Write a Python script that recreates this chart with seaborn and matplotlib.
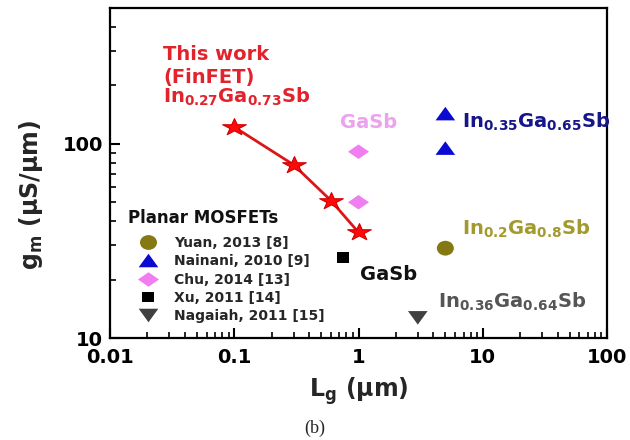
import matplotlib
matplotlib.use("Agg")
import matplotlib.pyplot as plt
import numpy as np
import pandas as pd
import seaborn as sns
from matplotlib.markers import MarkerStyle
from matplotlib.transforms import Affine2D
from matplotlib.ticker import FuncFormatter, LogLocator, NullFormatter

# ---------------- data ----------------
this_work_lg = [0.1, 0.3, 0.6, 1.0]
this_work_gm = [122, 78, 51, 35]

planar_source = ["Yuan, 2013 [8]", "Nainani, 2010 [9]", "Nainani, 2010 [9]",
                 "Chu, 2014 [13]", "Chu, 2014 [13]", "Xu, 2011 [14]",
                 "Nagaiah, 2011 [15]"]
planar_lg = [5, 5, 5, 1, 1, 0.75, 3]
planar_gm = [29, 143, 95, 91, 50, 26, 12.7]
legend_order = ["Yuan, 2013 [8]", "Nainani, 2010 [9]", "Chu, 2014 [13]",
                "Xu, 2011 [14]", "Nagaiah, 2011 [15]"]
x_ticks = [0.01, 0.1, 1, 10, 100]
y_ticks = [10, 100]

# ---------------- style ----------------
sns.set_theme(style="ticks")
plt.rcParams["font.family"] = ["DejaVu Sans"]
plt.rcParams["font.weight"] = "bold"
plt.rcParams["mathtext.fontset"] = "dejavusans"
plt.rcParams["mathtext.default"] = "bf"


def stretched(m, sx):
    ms = MarkerStyle(m)
    p = ms.get_path().transformed(ms.get_transform())
    return p.transformed(Affine2D().scale(sx, 1.0))


markers = {
    "Yuan, 2013 [8]": stretched("o", 1.15),
    "Nainani, 2010 [9]": stretched("^", 1.45),
    "Chu, 2014 [13]": stretched("D", 1.45),
    "Xu, 2011 [14]": stretched("s", 1.25),
    "Nagaiah, 2011 [15]": stretched("v", 1.45),
}
palette = {
    "Yuan, 2013 [8]": "#857914",
    "Nainani, 2010 [9]": "#0a0ad2",
    "Chu, 2014 [13]": "#f07ef0",
    "Xu, 2011 [14]": "#000000",
    "Nagaiah, 2011 [15]": "#404040",
}
sizes = {
    "Yuan, 2013 [8]": 150,
    "Nainani, 2010 [9]": 200,
    "Chu, 2014 [13]": 230,
    "Xu, 2011 [14]": 85,
    "Nagaiah, 2011 [15]": 200,
}

df = pd.DataFrame({"Lg": planar_lg, "gm": planar_gm, "src": planar_source})

fig = plt.figure(figsize=(6.3, 4.4), dpi=100)
ax = fig.add_axes([0.1746, 0.2318, 0.7889, 0.75])
ax.set_xscale("log")
ax.set_yscale("log")

sns.lineplot(x=this_work_lg, y=this_work_gm, ax=ax, color="#dc1616",
             linewidth=2, sort=False, marker=stretched("*", 1.4),
             markersize=17, markerfacecolor="#ff0a0a",
             markeredgecolor="#d00000", markeredgewidth=0.8)

sns.scatterplot(data=df, x="Lg", y="gm", hue="src", style="src", size="src",
                hue_order=legend_order, style_order=legend_order,
                size_order=legend_order, palette=palette, markers=markers,
                sizes=sizes, linewidth=0, ax=ax, legend="full", zorder=3)

old = ax.get_legend()
handles = old.legend_handles
labels = [t.get_text() for t in old.get_texts()]
old.remove()
pairs = [(h, l) for h, l in zip(handles, labels) if l in legend_order]
ax.legend([p[0] for p in pairs], [p[1] for p in pairs], loc="upper left",
          bbox_to_anchor=(0.056, 0.309), frameon=False, borderpad=0,
          borderaxespad=0, handlelength=1.4, handletextpad=1.2,
          labelspacing=0.31, prop=dict(family="DejaVu Sans", weight="bold", size=10))

ax.set_xlim(0.01, 100)
ax.set_ylim(10, 500)
ax.xaxis.set_major_locator(LogLocator(base=10, numticks=10))
ax.yaxis.set_major_locator(LogLocator(base=10, numticks=10))
ax.xaxis.set_minor_locator(LogLocator(base=10, subs=np.arange(2, 10), numticks=20))
ax.yaxis.set_minor_locator(LogLocator(base=10, subs=np.arange(2, 10), numticks=20))
fmt = FuncFormatter(lambda v, p: f"{v:g}")
ax.xaxis.set_major_formatter(fmt)
ax.yaxis.set_major_formatter(fmt)
ax.xaxis.set_minor_formatter(NullFormatter())
ax.yaxis.set_minor_formatter(NullFormatter())
ax.tick_params(which="both", direction="in", top=False, right=False,
               colors="black", labelsize=14, width=1.5)
ax.tick_params(which="major", length=7)
ax.tick_params(axis="x", which="major", pad=7)
ax.tick_params(axis="y", which="major", pad=5)
ax.tick_params(which="minor", length=4, width=1.2)
for lab in ax.get_xticklabels() + ax.get_yticklabels():
    lab.set_fontweight("bold")
for s in ax.spines.values():
    s.set_linewidth(1.6)
    s.set_color("black")

ax.set_xlabel("L$_{g}$ (μm)", fontsize=17, fontweight="bold", labelpad=6)
ax.set_ylabel("g$_{m}$ (μS/μm)", fontsize=17, fontweight="bold")
ax.yaxis.set_label_coords(-0.131, 0.433)

T = ax.transAxes
red = "#e3232c"
ax.text(0.107, 0.842, "This work", transform=T, color=red, fontsize=14, fontweight="bold")
ax.text(0.107, 0.773, "(FinFET)", transform=T, color=red, fontsize=14, fontweight="bold")
ax.text(0.107, 0.712, "In$_{0.27}$Ga$_{0.73}$Sb", transform=T, color=red, fontsize=14, fontweight="bold")
ax.text(0.463, 0.636, "GaSb", transform=T, color="#eca2ec", fontsize=14, fontweight="bold")
ax.text(0.708, 0.636, "In$_{0.35}$Ga$_{0.65}$Sb", transform=T, color="#16168a", fontsize=14, fontweight="bold")
ax.text(0.708, 0.312, "In$_{0.2}$Ga$_{0.8}$Sb", transform=T, color="#a39a2e", fontsize=14, fontweight="bold")
ax.text(0.503, 0.176, "GaSb", transform=T, color="#111111", fontsize=14, fontweight="bold")
ax.text(0.660, 0.091, "In$_{0.36}$Ga$_{0.64}$Sb", transform=T, color="#555555", fontsize=14, fontweight="bold")
ax.text(0.036, 0.348, "Planar MOSFETs", transform=T, color="#111111", fontsize=12, fontweight="bold")

fig.text(0.5, 0.027, "(b)", family="Liberation Serif", fontsize=13,
         fontweight="normal", ha="center", va="center")

fig.savefig("out.png", dpi=100)
